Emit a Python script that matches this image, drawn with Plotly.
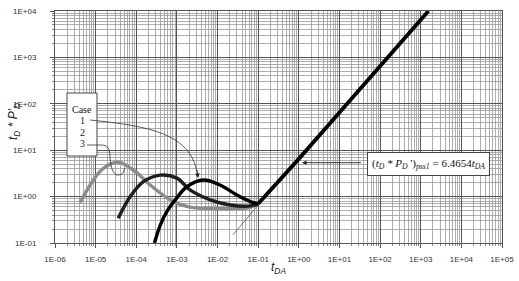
import plotly.graph_objects as go

# ---- data ----
case1_t = [2.8e-4, 3.9e-4, 5.6e-4, 9.1e-4, 1.75e-3, 4.5e-3, 1.15e-2, 3.0e-2, 6.4e-2, 1.0e-1]
case1_y = [0.10, 0.244, 0.47, 0.85, 1.63, 2.28, 1.78, 1.08, 0.78, 0.70]

case2_t = [3.6e-5, 7.1e-5, 1.5e-4, 3.9e-4, 1.0e-3, 2.1e-3, 6.6e-3, 2.05e-2, 6.4e-2, 1.0e-1]
case2_y = [0.34, 1.0, 2.1, 2.9, 2.5, 1.39, 0.85, 0.66, 0.63, 0.70]

case3_t = [4.1e-6, 8.8e-6, 1.55e-5, 3.6e-5, 8.5e-5, 2.2e-4, 6.8e-4, 1.2e-3, 2.5e-3, 1.0e-2, 3.0e-2, 6.0e-2, 1.0e-1]
case3_y = [0.74, 2.28, 4.07, 5.5, 3.74, 1.78, 0.85, 0.68, 0.58, 0.55, 0.55, 0.58, 0.70]

pss_t = [0.1, 0.2, 1.0, 10.0, 100.0, 1000.0, 1550.0]
pss_y = [0.70, 1.35, 6.5, 64.7, 647.0, 6465.0, 10000.0]

tangent_t = [0.024, 0.1]
tangent_y = [0.15, 0.66]

x_tickvals = [1e-6, 1e-5, 1e-4, 1e-3, 1e-2, 1e-1, 1e0, 1e1, 1e2, 1e3, 1e4, 1e5]
x_ticktext = ["1E-06", "1E-05", "1E-04", "1E-03", "1E-02", "1E-01", "1E+00",
              "1E+01", "1E+02", "1E+03", "1E+04", "1E+05"]
y_tickvals = [1e-1, 1e0, 1e1, 1e2, 1e3, 1e4]
y_ticktext = ["1E-01", "1E+00", "1E+01", "1E+02", "1E+03", "1E+04"]

legend_labels = ["Case", "1", "2", "3"]

# ---- layout geometry ----
W, H = 519, 281
L, R, T, B = 55, 17, 11, 38
PW, PH = W - L - R, H - T - B


def px(x):
    return (x - L) / PW


def py(y):
    return (H - B - y) / PH


fig = go.Figure()

fig.add_trace(go.Scatter(x=tangent_t, y=tangent_y, mode="lines",
                         line=dict(color="#555555", width=0.8), hoverinfo="skip"))
fig.add_trace(go.Scatter(x=case3_t, y=case3_y, mode="lines", line_shape="spline",
                         line=dict(color="#8c8c8c", width=3.4)))
fig.add_trace(go.Scatter(x=case2_t, y=case2_y, mode="lines", line_shape="spline",
                         line=dict(color="#1e1e1e", width=3.4)))
fig.add_trace(go.Scatter(x=case1_t, y=case1_y, mode="lines", line_shape="spline",
                         line=dict(color="#000000", width=3.4)))
fig.add_trace(go.Scatter(x=pss_t, y=pss_y, mode="lines",
                         line=dict(color="#000000", width=3.8)))

axis_common = dict(
    type="log",
    showline=True, linecolor="#555555", linewidth=1, mirror=True,
    showgrid=True, gridcolor="#555555", gridwidth=1,
    ticks="outside", ticklen=4, tickcolor="#555555",
    tickfont=dict(family="Liberation Sans, Arial", size=8, color="#333333"),
    minor=dict(dtick="D1", showgrid=True, gridcolor="#9a9a9a", gridwidth=0.8,
               ticks="outside", ticklen=2, tickcolor="#888888"),
    zeroline=False,
    automargin=False,
)

fig.update_xaxes(range=[-6, 5], tickvals=x_tickvals, ticktext=x_ticktext,
                 ticklabelstandoff=4, **axis_common)
fig.update_yaxes(range=[-1, 4], tickvals=y_tickvals, ticktext=y_ticktext,
                 ticklabelstandoff=12, **axis_common)

shapes = []
# legend box
shapes.append(dict(type="rect", xref="paper", yref="paper",
                   x0=px(67), x1=px(97), y0=py(156), y1=py(93),
                   line=dict(color="#444444", width=1), fillcolor="white", layer="above"))


def path_pts(cmds):
    out = []
    for c in cmds:
        if isinstance(c, str):
            out.append(c)
        else:
            out.append(f"{px(c[0]):.5f},{py(c[1]):.5f}")
    return " ".join(out)


arrow1 = path_pts(["M", (90, 120), "C", (150, 126), (190, 134), (197, 172)])
arrow3 = path_pts(["M", (87, 145), "L", (101, 145), "C", (109, 145), (110, 150), (110, 158),
                   "C", (111, 168), (113, 175), (118, 175),
                   "C", (123, 175), (124, 172), (124.5, 168)])
for p in (arrow1, arrow3):
    shapes.append(dict(type="path", xref="paper", yref="paper", path=p,
                       line=dict(color="#333333", width=0.8), layer="above"))

annotations = []
# arrowheads
annotations.append(dict(xref="paper", yref="paper", x=px(198), y=py(178), text=" ",
                        showarrow=True, arrowhead=2, arrowsize=1, arrowwidth=0.9,
                        arrowcolor="#222222", ax=-1, ay=-8))
annotations.append(dict(xref="paper", yref="paper", x=px(125), y=py(164), text=" ",
                        showarrow=True, arrowhead=2, arrowsize=1, arrowwidth=0.9,
                        arrowcolor="#222222", ax=-0.5, ay=7))
# arrow to pss line
annotations.append(dict(xref="paper", yref="paper", x=px(302), y=py(162.7), text=" ",
                        showarrow=True, arrowhead=2, arrowsize=1, arrowwidth=0.9,
                        arrowcolor="#222222", ax=62, ay=0))
# equation box
annotations.append(dict(xref="paper", yref="paper", x=px(428.5), y=py(164),
                        text="(<i>t</i><sub><i>D</i></sub> <i>* P</i><sub><i>D</i></sub> ')<sub><i>pss1</i></sub> = 6.4654<i>t</i><sub><i>DA</i></sub>",
                        showarrow=False, font=dict(family="Liberation Serif, Times New Roman", size=11, color="#111111"),
                        bgcolor="white", bordercolor="#444444", borderwidth=1, borderpad=4,
                        xanchor="center", yanchor="middle"))
# legend texts
leg_y = [109, 120, 132, 143]
for lab, yy in zip(legend_labels, leg_y):
    annotations.append(dict(xref="paper", yref="paper", x=px(82), y=py(yy), text=lab,
                            showarrow=False,
                            font=dict(family="Liberation Serif, Times New Roman", size=10, color="#222222"),
                            xanchor="center", yanchor="middle"))
# axis titles
annotations.append(dict(xref="paper", yref="paper", x=px(14), y=py(122),
                        text="<i>t</i><sub><i>D</i></sub><i> * P'</i><sub><i>D</i></sub>",
                        textangle=-90, showarrow=False,
                        font=dict(family="Liberation Sans, Arial", size=12, color="#222222"),
                        xanchor="center", yanchor="middle"))
annotations.append(dict(xref="paper", yref="paper", x=px(278), y=py(268),
                        text="<i>t</i><sub><i>DA</i></sub>", showarrow=False,
                        font=dict(family="Liberation Sans, Arial", size=12, color="#222222"),
                        xanchor="center", yanchor="middle"))

fig.update_layout(
    width=W, height=H,
    margin=dict(l=L, r=R, t=T, b=B),
    paper_bgcolor="white", plot_bgcolor="white",
    showlegend=False,
    hovermode=False,
    shapes=shapes,
    annotations=annotations,
)

fig.write_html("out.html", config={"displayModeBar": False, "staticPlot": True},
               post_script="document.body.style.margin='0';document.body.style.padding='0';")
